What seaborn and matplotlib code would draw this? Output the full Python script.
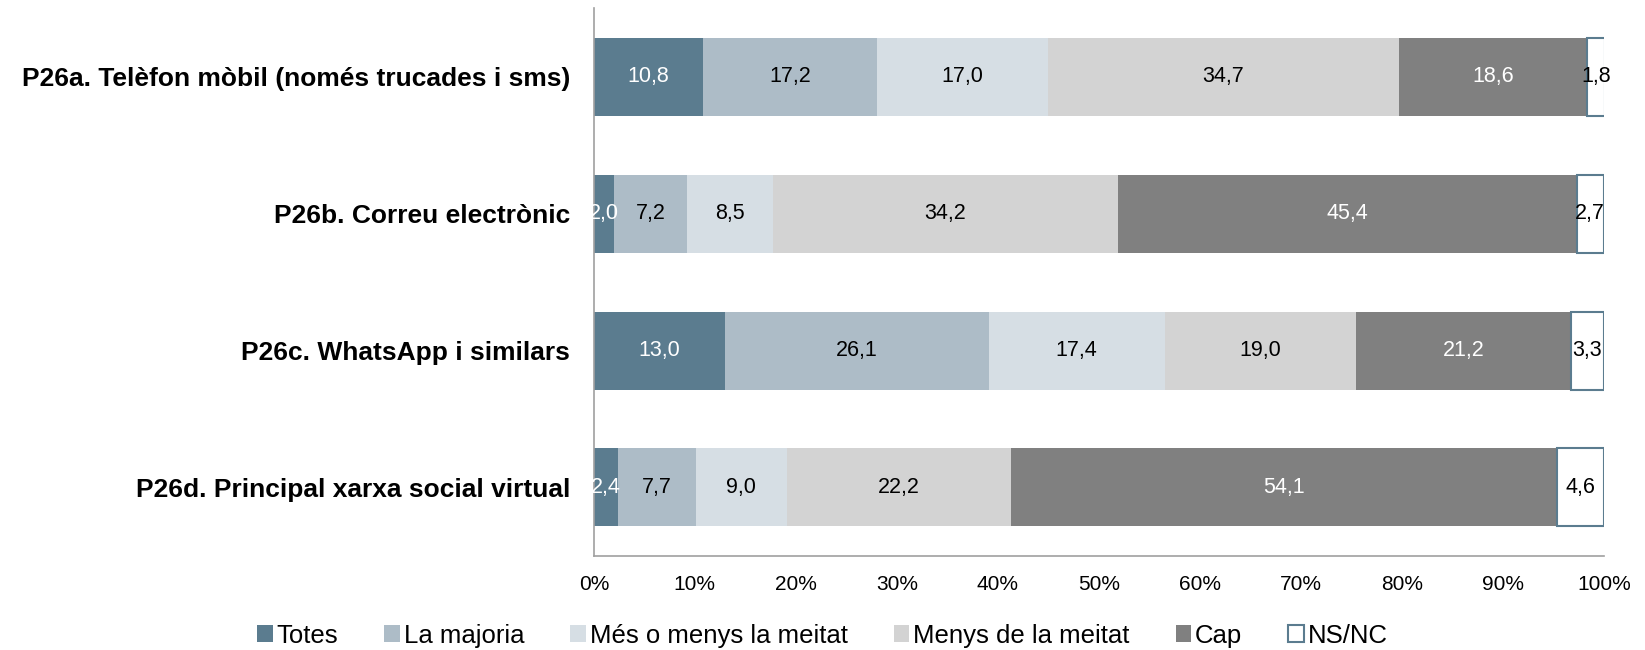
import matplotlib
matplotlib.use("Agg")
import matplotlib.pyplot as plt
import seaborn as sns
import numpy as np
import pandas as pd

sns.set_theme(style="white")
plt.rcParams['font.family'] = ['Liberation Sans', 'DejaVu Sans']
plt.rcParams['text.color'] = 'black'
plt.rcParams['xtick.color'] = 'black'
plt.rcParams['ytick.color'] = 'black'

# data
categories = ["P26a. Telèfon mòbil (només trucades i sms)",
              "P26b. Correu electrònic",
              "P26c. WhatsApp i similars",
              "P26d. Principal xarxa social virtual"]
series = ["Totes", "La majoria", "Més o menys la meitat", "Menys de la meitat", "Cap", "NS/NC"]
totes = [10.8, 2.0, 13.0, 2.4]
majoria = [17.2, 7.2, 26.1, 7.7]
meitat = [17.0, 8.5, 17.4, 9.0]
menys = [34.7, 34.2, 19.0, 22.2]
cap = [18.6, 45.4, 21.2, 54.1]
nsnc = [1.8, 2.7, 3.3, 4.6]

colors = ["#5B7C8F", "#ADBCC7", "#D6DEE4", "#D3D3D3", "#808080", "#FFFFFF"]
text_colors = ["white", "black", "black", "black", "white", "black"]

df = pd.DataFrame({"cat": categories, "Totes": totes, "La majoria": majoria,
                   "Més o menys la meitat": meitat, "Menys de la meitat": menys,
                   "Cap": cap, "NS/NC": nsnc})

fig = plt.figure(figsize=(16.45, 6.5), dpi=100)
ax = fig.add_axes([0.361, 0.145, 0.614, 0.842])

y = np.arange(len(categories))
left = np.zeros(len(categories))
for s, c, tc in zip(series, colors, text_colors):
    vals = df[s].values
    edge = "#5B7C8F" if s == "NS/NC" else c
    lw = 1.5 if s == "NS/NC" else 0
    ax.barh(y, vals, left=left, height=0.57, color=c, edgecolor=edge, linewidth=lw, label=s)
    for yi, l, v in zip(y, left, vals):
        ax.text(l + v / 2, yi, f"{v:.1f}".replace(".", ","), ha="center", va="center",
                color=tc, fontsize=15.5)
    left += vals

ax.set_ylim(3.5, -0.5)
ax.set_xlim(0, 100)
ax.set_yticks(y)
ax.set_yticklabels(categories, fontsize=19, fontweight="bold")
ax.set_xticks(np.arange(0, 101, 10))
ax.set_xticklabels([f"{v}%" for v in range(0, 101, 10)], fontsize=15)
ax.tick_params(axis="both", length=0)
ax.tick_params(axis="x", pad=14)
ax.tick_params(axis="y", pad=17)
for side in ["top", "right"]:
    ax.spines[side].set_visible(False)
for side in ["left", "bottom"]:
    ax.spines[side].set_color("#A0A0A0")
    ax.spines[side].set_linewidth(1.2)

handles, labels = ax.get_legend_handles_labels()
fig.legend(handles, labels, loc="lower center", bbox_to_anchor=(0.5, -0.032), ncol=6,
           frameon=False, fontsize=18.5, handlelength=0.6, handleheight=0.6,
           handletextpad=0.15, columnspacing=1.8)

fig.savefig("out.png", dpi=100)
